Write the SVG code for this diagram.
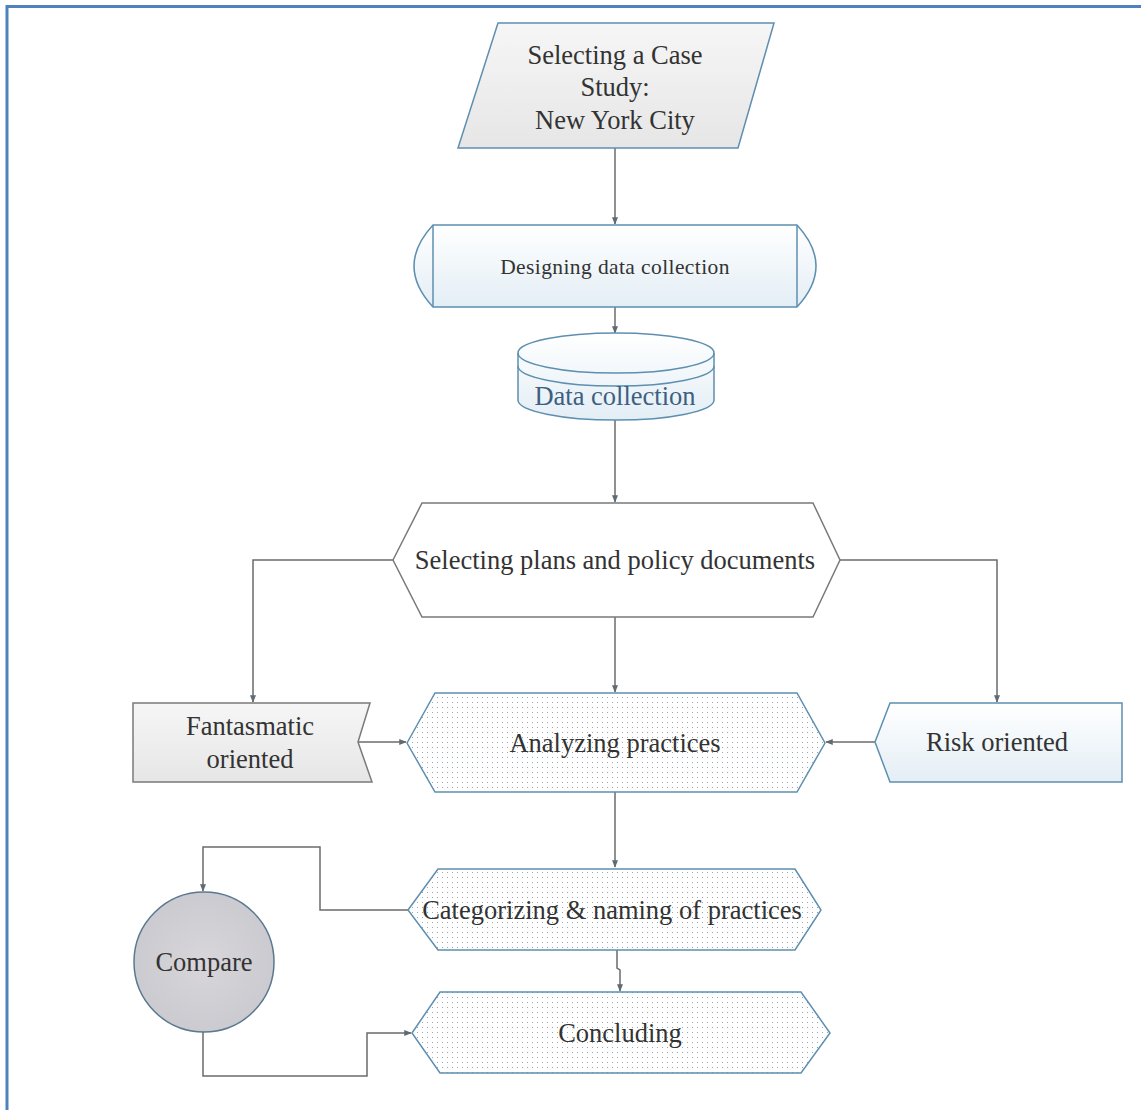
<svg xmlns="http://www.w3.org/2000/svg" width="1141" height="1110" viewBox="0 0 1141 1110">
<defs>
<linearGradient id="gGray" x1="0" y1="0" x2="0" y2="1">
<stop offset="0" stop-color="#f6f6f6"/><stop offset="1" stop-color="#e6e6e6"/>
</linearGradient>
<linearGradient id="gBlue" x1="0" y1="0" x2="0" y2="1">
<stop offset="0" stop-color="#ffffff"/><stop offset="1" stop-color="#e3eef5"/>
</linearGradient>
<pattern id="dots" width="5" height="5" patternUnits="userSpaceOnUse">
<rect width="5" height="5" fill="#ffffff"/>
<rect x="2" y="2" width="1" height="1" fill="#9aa4ad"/>
</pattern>
<radialGradient id="gStone" cx="0.5" cy="0.5" r="0.6">
<stop offset="0" stop-color="#d8d6da"/><stop offset="1" stop-color="#c8c8ce"/>
</radialGradient>
<marker id="arr" viewBox="0 0 10 10" refX="9" refY="5" markerWidth="5" markerHeight="5" orient="auto">
<path d="M0,1 L10,5 L0,9 z" fill="#5f6a72"/>
</marker>
</defs>
<style>
.lbl{fill:#333333;text-anchor:middle}
.t24{font-size:26.5px}
.t19{font-size:21.5px;letter-spacing:0.4px}
.blue{stroke:#5e8fb0;stroke-width:1.5}
.gray{stroke:#7a7a7a;stroke-width:1.5}
.conn{fill:none;stroke:#6b6b6b;stroke-width:1.5}
</style>
<rect width="1141" height="1110" fill="#ffffff"/>
<path d="M7,1110 L7,6.5 L1141,6.5" fill="none" stroke="#4f81bd" stroke-width="3"/>

<g id="connectors">
<path class="conn" d="M615,148 L615,224" marker-end="url(#arr)"/>
<path class="conn" d="M615,307 L615,333" marker-end="url(#arr)"/>
<path class="conn" d="M615,420 L615,502" marker-end="url(#arr)"/>
<path class="conn" d="M393,560 L253,560 L253,702" marker-end="url(#arr)"/>
<path class="conn" d="M840,560 L997,560 L997,702" marker-end="url(#arr)"/>
<path class="conn" d="M615,617 L615,692" marker-end="url(#arr)"/>
<path class="conn" d="M358,742 L406,742" marker-end="url(#arr)"/>
<path class="conn" d="M875,742 L826,742" marker-end="url(#arr)"/>
<path class="conn" d="M615,792 L615,867" marker-end="url(#arr)"/>
<path class="conn" d="M408,910 L320,910 L320,847 L203,847 L203,891" marker-end="url(#arr)"/>
<path class="conn" d="M617,950 L617,968 L620,970 L620,991" marker-end="url(#arr)"/>
<path class="conn" d="M203,1032 L203,1076 L367,1076 L367,1033 L411,1033" marker-end="url(#arr)"/>
</g>

<g font-family="'Liberation Serif', 'Times New Roman', Times, serif">
<g id="node-case-study">
<polygon points="498,23 774,23 738,148 458,148" fill="url(#gGray)" class="blue"/>
<text class="lbl t24" x="615" y="64">Selecting a Case</text>
<text class="lbl t24" x="615" y="96">Study:</text>
<text class="lbl t24" x="615" y="129">New York City</text>
</g>

<g id="node-designing">
<path d="M433,225 L797,225 Q835,266 797,307 L433,307 Q395,266 433,225 Z" fill="url(#gBlue)" class="blue"/>
<line x1="433" y1="225" x2="433" y2="307" class="blue"/>
<line x1="797" y1="225" x2="797" y2="307" class="blue"/>
<text class="lbl t19" x="615" y="274">Designing data collection</text>
</g>

<g id="node-data-collection">
<path d="M518,353 A98,20 0 0 1 714,353 L714,400 A98,20 0 0 1 518,400 Z" fill="url(#gBlue)" class="blue"/>
<path d="M518,353 A98,20 0 0 0 714,353" fill="none" class="blue"/>
<path d="M518,366 A98,20 0 0 0 714,366" fill="none" class="blue"/>
<text class="lbl t24" x="615" y="405" style="fill:#3d5f82">Data collection</text>
</g>

<g id="node-selecting-plans">
<polygon points="393,560 422,503 813,503 840,560 813,617 422,617" fill="#ffffff" class="gray"/>
<text class="lbl t24" x="615" y="569">Selecting plans and policy documents</text>
</g>

<g id="node-fantasmatic">
<polygon points="133,703 370,703 358,742 372,782 133,782" fill="url(#gGray)" class="gray"/>
<text class="lbl t24" x="250" y="735">Fantasmatic</text>
<text class="lbl t24" x="250" y="768">oriented</text>
</g>

<g id="node-analyzing">
<polygon points="407,743 435,693 797,693 825,743 797,792 435,792" fill="url(#dots)" class="blue"/>
<text class="lbl t24" x="615" y="752">Analyzing practices</text>
</g>

<g id="node-risk">
<polygon points="875,742 890,703 1122,703 1122,782 890,782" fill="url(#gBlue)" class="blue"/>
<text class="lbl t24" x="997" y="751">Risk oriented</text>
</g>

<g id="node-categorizing">
<polygon points="408,910 438,869 795,869 821,910 795,950 438,950" fill="url(#dots)" class="blue"/>
<text class="lbl t24" x="612" y="919">Categorizing &amp; naming of practices</text>
</g>

<g id="node-concluding">
<polygon points="412,1033 440,992 801,992 830,1033 801,1073 440,1073" fill="url(#dots)" class="blue"/>
<text class="lbl t24" x="620" y="1042">Concluding</text>
</g>

<g id="node-compare">
<circle cx="204" cy="962" r="70" fill="url(#gStone)" stroke="#5a7890" stroke-width="1.5"/>
<text class="lbl t24" x="204" y="971">Compare</text>
</g>
</g>
</svg>
